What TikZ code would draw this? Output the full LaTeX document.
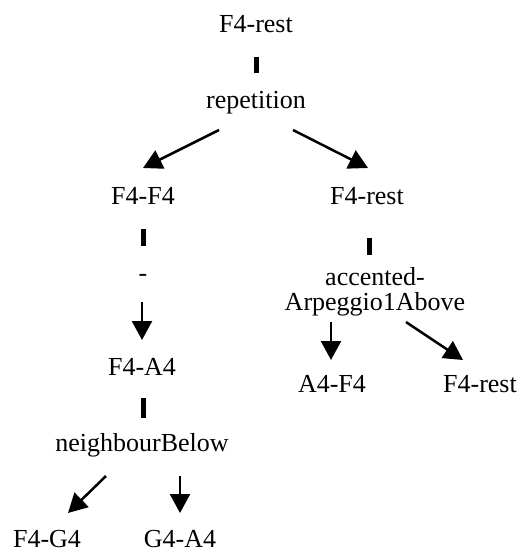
\documentclass[tikz,border=0pt]{standalone}
\usepackage{fontspec}
\setmainfont{Liberation Serif}
\usetikzlibrary{arrows.meta}
\begin{document}
\begin{tikzpicture}[x=1pt,y=-1pt,
  lbl/.style={inner sep=0pt, anchor=base, font=\fontsize{26}{25}\selectfont},
  bar/.style={line width=5pt},
  arr/.style={line width=2.5pt, -{Triangle[length=19pt,width=20pt]}}]
\useasboundingbox (0,0) rectangle (520,552);
% tree nodes (positioned by baseline)
\node[lbl] (top) at (256,32)  {F4-rest};
\node[lbl] (rep) at (256,108) {repetition};
\node[lbl] (ff)  at (143,204) {F4-F4};
\node[lbl] (dsh) at (143,281) {-};
\node[lbl] (fa)  at (142,375) {F4-A4};
\node[lbl] (nb)  at (142,451) {neighbourBelow};
\node[lbl] (fg)  at (47,547)  {F4-G4};
\node[lbl] (ga)  at (180,547) {G4-A4};
\node[lbl] (rr)  at (367,204) {F4-rest};
\node[lbl, align=center] (acc) at (375,310) {accented-\\Arpeggio1Above};
\node[lbl] (af)  at (332,392) {A4-F4};
\node[lbl] (r2)  at (480,392) {F4-rest};
% short bars
\draw[bar] ([shift={(0,25)}]top.base) -- ([shift={(0,-35)}]rep.base);
\draw[bar] ([shift={(0,25)}]ff.base) -- ([shift={(0,-35)}]dsh.base);
\draw[bar] ([shift={(2,34)}]rr.base) -- ([shift={(-6,-55)}]acc.base);
\draw[bar] ([shift={(1,23)}]fa.base) -- ([shift={(1,-33)}]nb.base);
% arrows
\draw[arr] ([shift={(-37,22)}]rep.base) -- ([shift={(0,-36)}]ff.base);
\draw[arr] ([shift={(37,22)}]rep.base) -- ([shift={(1,-36)}]rr.base);
\draw[arr] ([shift={(-1,21)}]dsh.base) -- ([shift={(0,-35)}]fa.base);
\draw[arr] ([shift={(-36,25)}]nb.base) -- ([shift={(21,-34)}]fg.base);
\draw[arr] ([shift={(38,25)}]nb.base) -- ([shift={(0,-34)}]ga.base);
\draw[arr] ([shift={(-44,12)}]acc.base) -- ([shift={(-1,-32)}]af.base);
\draw[arr] ([shift={(31,12)}]acc.base) -- ([shift={(-17,-32)}]r2.base);
\end{tikzpicture}
\end{document}
